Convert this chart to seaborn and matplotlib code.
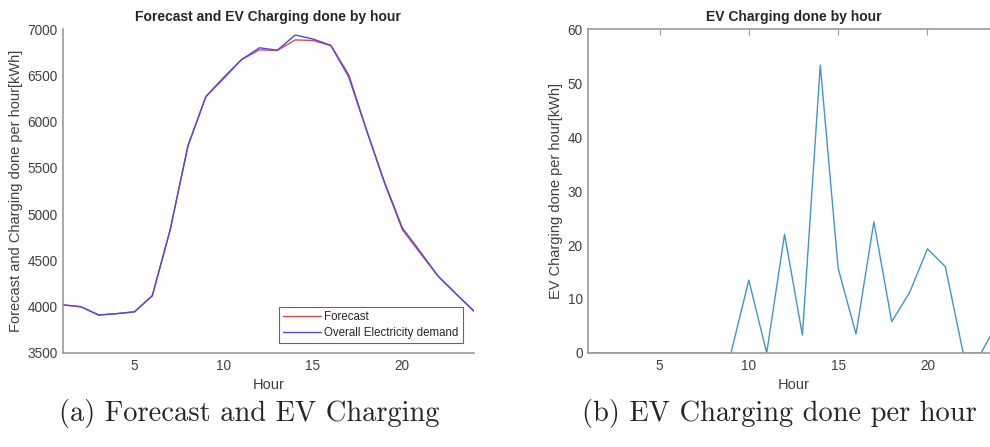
import matplotlib
matplotlib.use("Agg")
import matplotlib.pyplot as plt
import seaborn as sns
import pandas as pd

hours = list(range(1, 25))
forecast = [4020, 4000, 3910, 3925, 3945, 4118, 4830, 5740, 6270, 6465, 6670, 6775,
            6768, 6882, 6876, 6820, 6478, 5900, 5335, 4832, 4578, 4330, 4140, 3950]
demand = [4020, 4000, 3910, 3925, 3945, 4118, 4830, 5740, 6270, 6478, 6670, 6797,
          6771, 6935, 6892, 6823, 6502, 5906, 5346, 4851, 4594, 4330, 4140, 3956]
ev = [0, 0, 0, 0, 0, 0, 0, 0, 0, 13.5, 0, 22.0, 3.3, 53.3, 15.7, 3.5, 24.3, 5.8,
      11.2, 19.3, 16.0, 0, 0, 6.0]

sns.set_style("white")
plt.rcParams['font.family'] = ['Liberation Sans', 'DejaVu Sans']

fig = plt.figure(figsize=(9.9, 4.47), dpi=100)
ax1 = fig.add_axes([0.0636, 0.2103, 0.415, 0.7248])
ax2 = fig.add_axes([0.594, 0.2103, 0.415, 0.7248])

df1 = pd.DataFrame({"Hour": hours * 2,
                    "value": forecast + demand,
                    "series": ["Forecast"] * 24 + ["Overall Electricity demand"] * 24})
sns.lineplot(data=df1, x="Hour", y="value", hue="series",
             palette={"Forecast": "#e8464a", "Overall Electricity demand": "#4a4ae6"},
             linewidth=1.0, ax=ax1)
df2 = pd.DataFrame({"Hour": hours, "ev": ev})
sns.lineplot(data=df2, x="Hour", y="ev", color="#3d97cf", linewidth=1.0, ax=ax2)

axcol = "#9a9a9a"
tickcol = "#404040"
for ax in (ax1, ax2):
    ax.set_xlim(1, 24)
    ax.set_xticks([5, 10, 15, 20])
    ax.tick_params(direction="in", length=4, width=0.8, color=axcol,
                   labelsize=9.8, labelcolor=tickcol, pad=4)
    for s in ax.spines.values():
        s.set_color(axcol)
        s.set_linewidth(1.2)
    ax.set_xlabel("Hour", fontsize=10.5, color=tickcol, labelpad=4)

ax1.set_ylim(3500, 7000)
ax1.set_yticks([3500, 4000, 4500, 5000, 5500, 6000, 6500, 7000])
ax1.spines["top"].set_visible(False)
ax1.spines["right"].set_visible(False)
ax1.set_ylabel("Forecast and Charging done per hour[kWh]", fontsize=10.5, color=tickcol, labelpad=3)
ax1.set_title("Forecast and EV Charging done by hour", fontsize=10, fontweight="bold", pad=6)
leg = ax1.legend(loc="lower right", fontsize=8.3, frameon=True, fancybox=False,
                 handlelength=3.3, borderpad=0.35, labelspacing=0.3, handletextpad=0.3,
                 bbox_to_anchor=(0.973, 0.031), borderaxespad=0)
leg.get_frame().set_edgecolor("#404040")
leg.get_frame().set_linewidth(0.8)

ax2.set_ylim(0, 60)
ax2.set_yticks([0, 10, 20, 30, 40, 50, 60])
ax2.tick_params(axis="x", top=True, direction="in", length=4)
ax2.tick_params(axis="y", right=True, direction="in", length=4)
ax2.set_ylabel("EV Charging done per hour[kWh]", fontsize=10.5, color=tickcol, labelpad=3)
ax2.set_title("EV Charging done by hour", fontsize=10, fontweight="bold", pad=6)

fig.text(0.252, 0.075, "(a) Forecast and EV Charging", fontsize=20.5, family="cmr10",
         ha="center", va="center")
fig.text(0.787, 0.075, "(b) EV Charging done per hour", fontsize=20.5, family="cmr10",
         ha="center", va="center")

fig.savefig("out.png", dpi=100)
